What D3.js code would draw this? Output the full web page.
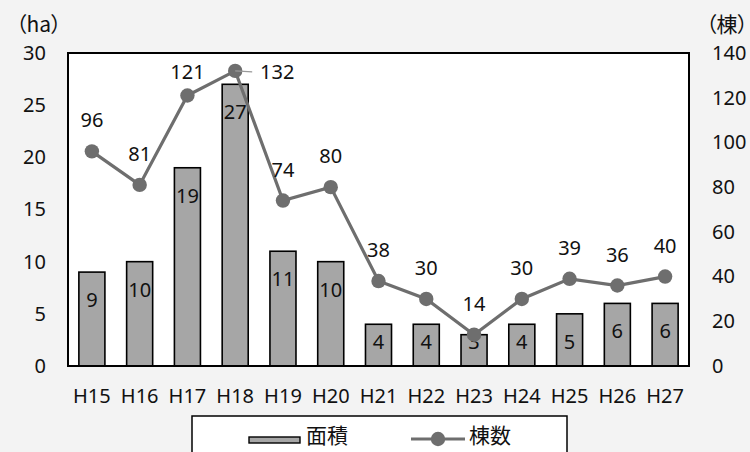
<!DOCTYPE html>
<html><head><meta charset="utf-8">
<script src="https://cdn.jsdelivr.net/npm/d3@7"></script>
<style>
html,body{margin:0;padding:0;background:#f3f3f3;}
svg{display:block;font-family:"Noto Sans","Noto Sans CJK JP",sans-serif;}
.unit{font-feature-settings:"palt" 1;}
</style></head><body>
<svg id="c" width="750" height="452"></svg>
<script>
const categories = ["H15","H16","H17","H18","H19","H20","H21","H22","H23","H24","H25","H26","H27"];
const areaValues = [9,10,19,27,11,10,4,4,3,4,5,6,6];
const buildingValues = [96,81,121,132,74,80,38,30,14,30,39,36,40];
const leftTicks = [0,5,10,15,20,25,30];
const rightTicks = [0,20,40,60,80,100,120,140];
const seriesNames = ["面積","棟数"];
const unitLeft = "（ha）", unitRight = "（棟）";

const svg = d3.select("#c");
const L = 68, R = 689, T = 53, B = 366;
const x = d3.scaleBand().domain(categories).range([L, R]).padding(0);
const yL = d3.scaleLinear().domain([0,30]).range([B, T]);
const yR = d3.scaleLinear().domain([0,140]).range([B, T]);
const fs = 20;

svg.append("rect").attr("width",750).attr("height",452).attr("fill","#f3f3f3");
svg.append("rect").attr("x",L).attr("y",T).attr("width",R-L).attr("height",B-T).attr("fill","#fff");

// axes
const axL = svg.append("g").attr("transform",`translate(${L},0)`)
  .call(d3.axisLeft(yL).tickValues(leftTicks).tickSize(0).tickPadding(22));
const axR = svg.append("g").attr("transform",`translate(${R},0)`)
  .call(d3.axisRight(yR).tickValues(rightTicks).tickSize(0).tickPadding(23));
const axB = svg.append("g").attr("transform",`translate(0,${B})`)
  .call(d3.axisBottom(x).tickSize(0).tickPadding(20));
[axL,axR,axB].forEach(a=>{
  a.select(".domain").remove();
  a.selectAll("text").attr("font-size",fs).attr("fill","#111")
   .attr("font-family",'"Noto Sans","Noto Sans CJK JP",sans-serif');
});
axB.selectAll("text").attr("dy","0.32em").attr("y",31);

// bars
const bw = x.bandwidth()*0.545;
svg.append("g").selectAll("rect").data(areaValues).join("rect")
  .attr("x",(d,i)=>x(categories[i])+x.bandwidth()/2-bw/2)
  .attr("y",d=>yL(d)).attr("width",bw).attr("height",d=>B-yL(d))
  .attr("fill","#a6a6a6").attr("stroke","#000").attr("stroke-width",1.6);

// bar labels
svg.append("g").selectAll("text").data(areaValues).join("text")
  .attr("x",(d,i)=>x(categories[i])+x.bandwidth()/2)
  .attr("y",d=>Math.min(yL(d)+28,342)).attr("dy","0.35em")
  .attr("text-anchor","middle").attr("font-size",fs).attr("fill","#111").text(d=>d);

// frame
svg.append("rect").attr("x",L).attr("y",T).attr("width",R-L).attr("height",B-T)
  .attr("fill","none").attr("stroke","#000").attr("stroke-width",2);

// line
const cx = i=>x(categories[i])+x.bandwidth()/2;
const line = d3.line().x((d,i)=>cx(i)).y(d=>yR(d));
svg.append("path").datum(buildingValues).attr("d",line)
  .attr("fill","none").attr("stroke","#6e6e6e").attr("stroke-width",3.2);
svg.append("g").selectAll("circle").data(buildingValues).join("circle")
  .attr("cx",(d,i)=>cx(i)).attr("cy",d=>yR(d)).attr("r",7.2).attr("fill","#6e6e6e");

// line labels
const maxI = buildingValues.indexOf(d3.max(buildingValues));
svg.append("line").attr("x1",cx(maxI)).attr("x2",cx(maxI)+17)
  .attr("y1",yR(buildingValues[maxI])).attr("y2",yR(buildingValues[maxI])+1)
  .attr("stroke","#999").attr("stroke-width",1.2);
svg.append("g").selectAll("text").data(buildingValues).join("text")
  .attr("x",(d,i)=> i===maxI ? cx(i)+42 : cx(i))
  .attr("y",(d,i)=> i===maxI ? yR(d)+1 : Math.max(yR(d)-31,72)).attr("dy","0.35em")
  .attr("text-anchor","middle").attr("font-size",fs).attr("fill","#111").text(d=>d);

// units
svg.append("text").attr("class","unit").attr("x",16).attr("y",25).attr("dy","0.35em")
  .attr("font-size",21).attr("font-family",'"Noto Sans CJK JP",sans-serif').attr("fill","#111").text(unitLeft);
svg.append("text").attr("class","unit").attr("x",748).attr("y",25).attr("dy","0.35em").attr("text-anchor","end")
  .attr("font-size",21).attr("font-family",'"Noto Sans CJK JP",sans-serif').attr("fill","#111").text(unitRight);

// legend
const lg = svg.append("g");
lg.append("rect").attr("x",192).attr("y",416).attr("width",375).attr("height",50)
  .attr("fill","#fff").attr("stroke","#000").attr("stroke-width",1.5);
lg.append("rect").attr("x",249).attr("y",437).attr("width",51).attr("height",6)
  .attr("fill","#a6a6a6").attr("stroke","#000").attr("stroke-width",1.4);
lg.append("text").attr("x",306).attr("y",436).attr("dy","0.35em").attr("font-size",21)
  .attr("font-family",'"Noto Sans CJK JP",sans-serif').attr("fill","#111").text(seriesNames[0]);
lg.append("line").attr("x1",411).attr("x2",465).attr("y1",439).attr("y2",439)
  .attr("stroke","#6e6e6e").attr("stroke-width",3.2);
lg.append("circle").attr("cx",438).attr("cy",439).attr("r",7.2).attr("fill","#6e6e6e");
lg.append("text").attr("x",469).attr("y",436).attr("dy","0.35em").attr("font-size",21)
  .attr("font-family",'"Noto Sans CJK JP",sans-serif').attr("fill","#111").text(seriesNames[1]);
</script>
</body></html>
